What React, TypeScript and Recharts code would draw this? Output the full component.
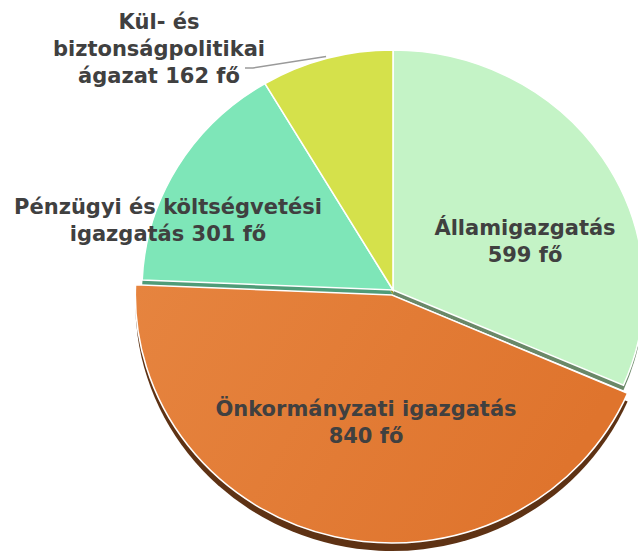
import React from 'react';
import { PieChart, Pie, Cell } from 'recharts';

const categories = [
  'Államigazgatás',
  'Önkormányzati igazgatás',
  'Pénzügyi és költségvetési igazgatás',
  'Kül- és biztonságpolitikai ágazat',
];
const values = [599, 840, 301, 162];
const labelLines = [
  ['Államigazgatás'],
  ['Önkormányzati igazgatás'],
  ['Pénzügyi és költségvetési', 'igazgatás'],
  ['Kül- és', 'biztonságpolitikai', 'ágazat'],
];
const valueOnOwnLine = [true, true, false, false];
const unit = 'fő';

const faceColors = ['#c4f3c6', 'url(#orangeGrad)', '#7ee6b8', '#d5e14b'];
const sideColors = ['#6a8868', '#5e3214', '#4f9c78', '#8f9a2c'];

const data = categories.map((name, i) => ({ name, value: values[i] }));

// label placement relative to main pie centre (style config)
const labelOffsets = [
  { dx: 132, dy: -62 },
  { dx: -27, dy: 119 },
  { dx: -225, dy: -83 },
  { dx: -234, dy: -268 },
];
const LINE_H = 27;
const RAD = Math.PI / 180;
const SX_MAIN = 1.046;
const SX_EXPL = 1.035;

const MAIN = { cx: 393, cy: 290, r: 240 };
const EXPL = { cx: 392, cy: 295, r: 248 };

const renderLabel = (props: any) => {
  const { cx, cy, index, midAngle, outerRadius } = props;
  const off = labelOffsets[index];
  const lines = [...labelLines[index]];
  const valText = `${values[index]} ${unit}`;
  if (valueOnOwnLine[index]) lines.push(valText);
  else lines[lines.length - 1] = `${lines[lines.length - 1]} ${valText}`;
  const x = cx + off.dx;
  const y0 = cy + off.dy;
  let leader = null;
  if (index === 3) {
    const ex = cx + (outerRadius + 2) * SX_MAIN * Math.cos(-midAngle * RAD);
    const ey = cy + (outerRadius + 2) * Math.sin(-midAngle * RAD);
    const sx = x + 86;
    const sy = y0 + 2 * LINE_H - 8;
    leader = (
      <polyline
        points={`${sx},${sy} ${sx + 8},${sy} ${ex},${ey}`}
        fill="none"
        stroke="#9a9a9a"
        strokeWidth={1.5}
      />
    );
  }
  return (
    <g key={`lbl-${index}`}>
      {leader}
      {lines.map((t, k) => (
        <text
          key={k}
          x={x}
          y={y0 + k * LINE_H}
          textAnchor="middle"
          dominantBaseline="central"
          fill="#404040"
          fontFamily="'DejaVu Sans', Verdana, sans-serif"
          fontWeight="bold"
          fontSize={21}
        >
          {t}
        </text>
      ))}
    </g>
  );
};

const css = `
.pie-main { transform-box: view-box; transform-origin: ${MAIN.cx}px ${MAIN.cy}px; transform: scaleX(${SX_MAIN}); }
.pie-expl { transform-box: view-box; transform-origin: ${EXPL.cx}px ${EXPL.cy}px; transform: scaleX(${SX_EXPL}); }
.pie-main .pie-main, .pie-expl .pie-expl { transform: none; }
`;

export default function App() {
  return (
    <div style={{ position: 'absolute', left: 0, top: 0, width: 638, height: 554, background: '#fff', overflow: 'hidden' }}>
      <style>{css}</style>
      <PieChart width={638} height={554} margin={{ top: 0, right: 0, bottom: 0, left: 0 }}>
        <defs>
          <linearGradient id="orangeGrad" x1="0" y1="0" x2="1" y2="0.3">
            <stop offset="0%" stopColor="#e6843f" />
            <stop offset="100%" stopColor="#df742d" />
          </linearGradient>
        </defs>
        {/* side (3D) of main pie */}
        <Pie
          className="pie-main"
          data={data}
          dataKey="value"
          cx={MAIN.cx}
          cy={MAIN.cy + 5}
          outerRadius={MAIN.r}
          startAngle={90}
          endAngle={-270}
          isAnimationActive={false}
          stroke="none"
          label={false}
          labelLine={false}
        >
          {data.map((_, i) => (
            <Cell key={i} fill={i === 1 ? 'none' : sideColors[i]} />
          ))}
        </Pie>
        {/* main pie face */}
        <Pie
          className="pie-main"
          data={data}
          dataKey="value"
          cx={MAIN.cx}
          cy={MAIN.cy}
          outerRadius={MAIN.r}
          startAngle={90}
          endAngle={-270}
          isAnimationActive={false}
          labelLine={false}
          label={false}
        >
          {data.map((_, i) => (
            <Cell
              key={i}
              fill={i === 1 ? 'none' : faceColors[i]}
              stroke={i === 1 ? 'none' : '#ffffff'}
              strokeWidth={1.5}
            />
          ))}
        </Pie>
        {/* exploded slice side */}
        <Pie
          className="pie-expl"
          data={data}
          dataKey="value"
          cx={EXPL.cx}
          cy={EXPL.cy + 8}
          outerRadius={EXPL.r}
          startAngle={90}
          endAngle={-270}
          isAnimationActive={false}
          stroke="none"
          label={false}
          labelLine={false}
        >
          {data.map((_, i) => (
            <Cell key={i} fill={i === 1 ? sideColors[1] : 'none'} />
          ))}
        </Pie>
        {/* exploded slice face */}
        <Pie
          className="pie-expl"
          data={data}
          dataKey="value"
          cx={EXPL.cx}
          cy={EXPL.cy}
          outerRadius={EXPL.r}
          startAngle={90}
          endAngle={-270}
          isAnimationActive={false}
          label={false}
          labelLine={false}
        >
          {data.map((_, i) => (
            <Cell
              key={i}
              fill={i === 1 ? faceColors[1] : 'none'}
              stroke={i === 1 ? '#ffffff' : 'none'}
              strokeWidth={1.5}
            />
          ))}
        </Pie>
        {/* labels */}
        <Pie
          data={data}
          dataKey="value"
          cx={MAIN.cx}
          cy={MAIN.cy}
          outerRadius={MAIN.r}
          startAngle={90}
          endAngle={-270}
          isAnimationActive={false}
          fill="none"
          stroke="none"
          labelLine={false}
          label={renderLabel}
        >
          {data.map((_, i) => (
            <Cell key={i} fill="none" stroke="none" />
          ))}
        </Pie>
      </PieChart>
    </div>
  );
}
